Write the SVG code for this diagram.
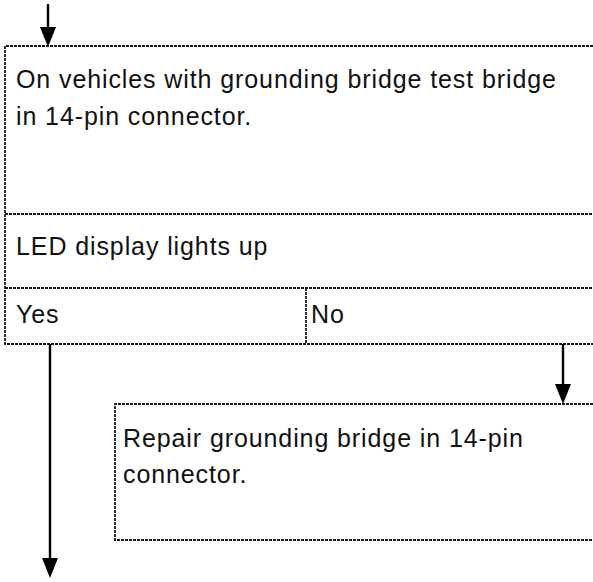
<svg xmlns="http://www.w3.org/2000/svg" width="593" height="582" viewBox="0 0 593 582">
<style>
.b{stroke:#1a1a1a;stroke-width:1.8;stroke-dasharray:3 1;fill:none}
.c{stroke:#000;stroke-width:2.4;fill:none}
text{font-family:"Liberation Sans",Arial,sans-serif;font-size:25px;letter-spacing:0.9px;fill:#111}
</style>
<rect width="593" height="582" fill="#fff"/>
<g id="check">
<path class="b" d="M593,46 H5 V344 H593"/>
<path class="b" d="M5,214 H593 M5,288 H593 M306,288 V344"/>
<text x="16" y="88">On vehicles with grounding bridge test bridge</text>
<text x="16" y="125">in 14-pin connector.</text>
<text x="16" y="255">LED display lights up</text>
<text x="16" y="323">Yes</text>
<text x="311" y="323">No</text>
</g>
<g id="repair">
<path class="b" d="M593,404 H115 V540 H593"/>
<text x="123" y="447">Repair grounding bridge in 14-pin</text>
<text x="123" y="483">connector.</text>
</g>
<g id="connectors">
<path class="c" d="M48,4 V30"/><path d="M40,27 L56,27 L48,47 Z"/>
<path class="c" d="M50,344 V562"/><path d="M42,558 L58,558 L50,578 Z"/>
<path class="c" d="M563,344 V388"/><path d="M555,384 L571,384 L563,404 Z"/>
</g>
</svg>
